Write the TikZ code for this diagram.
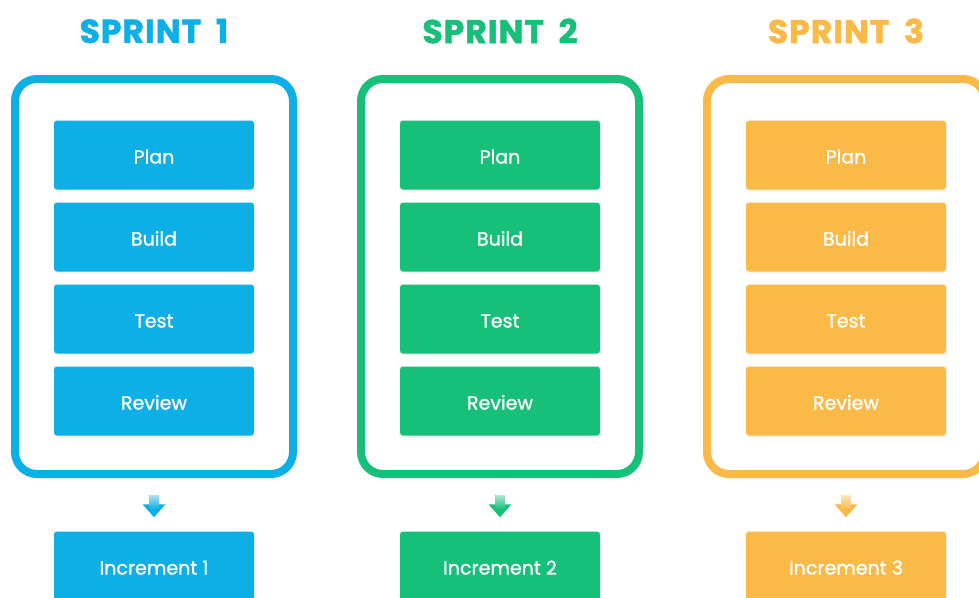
\documentclass[tikz,border=0pt]{standalone}
\usepackage{fontspec}
\setmainfont{Poppins}
\newfontfamily\lblfont{Poppins}[FakeBold=1.2]
\newfontfamily\ttlfont{Poppins Bold}[FakeBold=1.6, LetterSpace=3]
\usetikzlibrary{arrows.meta,shadows,calc}
\definecolor{cblue}{HTML}{0DB0E6}
\definecolor{cgreen}{HTML}{16C079}
\definecolor{corange}{HTML}{FBBA48}
\tikzset{
  frame/.style={draw=#1, line width=8pt, rounded corners=22pt, minimum width=278pt, minimum height=395pt, inner sep=0pt},
  stepbox/.style={fill=#1, rounded corners=3pt, minimum width=200pt, minimum height=69pt, inner sep=0pt, text=white,
    text height=17pt, text depth=0pt,
    font=\lblfont\fontsize{19}{22}\selectfont, drop shadow={opacity=0.10, shadow xshift=0pt, shadow yshift=-2pt}},
  title/.style={text=#1, font=\ttlfont\fontsize{33}{36}\selectfont, inner sep=0pt},
  arr/.style={draw=#1, line width=9.5pt, -{Triangle[width=22pt,length=13pt]}, shorten <=17pt, shorten >=14pt},
}
\begin{document}
\begin{tikzpicture}[x=1pt,y=-1pt]
\useasboundingbox (0,0) rectangle (979,597);
\clip (0,0) rectangle (979,597);
\fill[white] (0,0) rectangle (979,597);
\foreach \n/\cx/\c in {1/154/cblue, 2/500/cgreen, 3/846/corange}{
  \node[title=\c] (t\n) at (\cx,31) {SPRINT\hspace{0.45em}\n};
  \node[frame=\c] (f\n) at (\cx,276.5) {};
  \node[stepbox=\c] (p\n) at (\cx,155) {Plan};
  \node[stepbox=\c] (b\n) at (\cx,237) {Build};
  \node[stepbox=\c] (s\n) at (\cx,319) {Test};
  \node[stepbox=\c] (r\n) at (\cx,401) {Review};
  \node[stepbox=\c] (i\n) at (\cx,566) {Increment \n};
  \draw[arr=\c] (f\n.south) -- (i\n.north);
  \shade[top color=\c!35, bottom color=\c] ($(f\n.south)+(-4.75,17)$) rectangle ($(f\n.south)+(4.75,31)$);
}
\end{tikzpicture}
\end{document}
